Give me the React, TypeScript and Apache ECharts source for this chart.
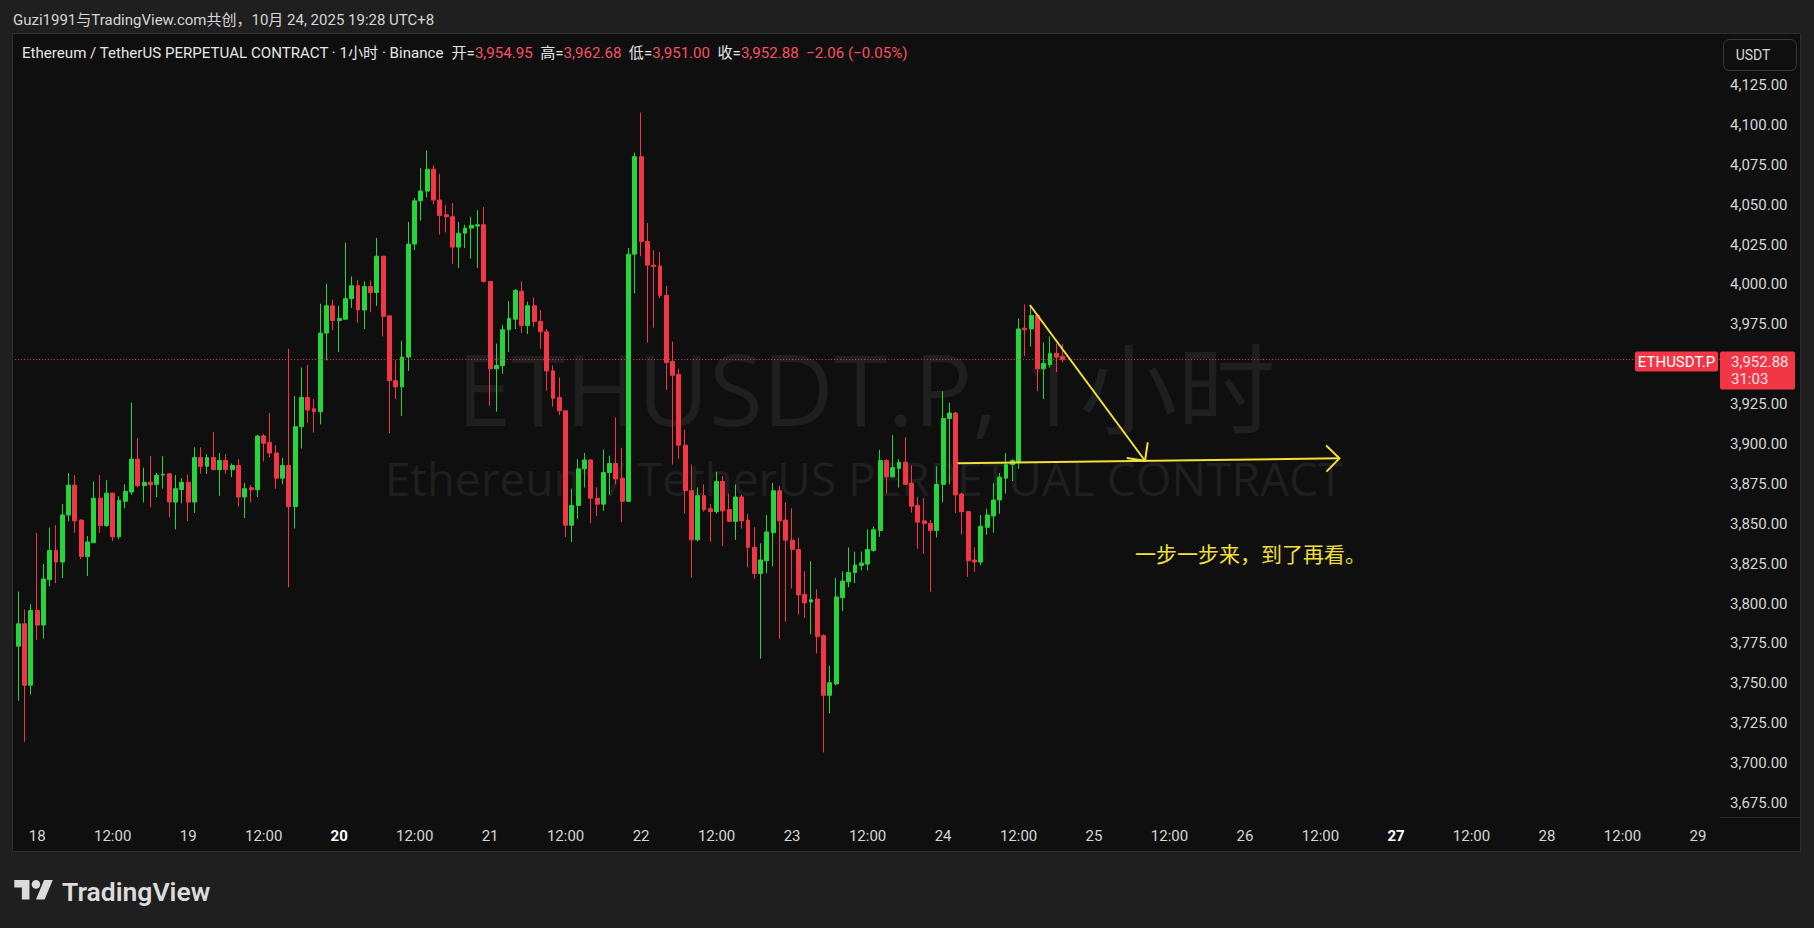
import React, { useEffect, useRef } from 'react';
import * as echarts from 'echarts';

// ---------- data ----------
const startDay = 17;
const startHour = 21;
const totalSlots = 271;
const mondayDays = [20, 27];

const opens = [
  3773.3, 3787.3, 3748.8, 3795.7, 3786.5, 3814.9, 3833.3, 3826.0, 3855.5, 3874.2,
  3852.3, 3829.4, 3838.1, 3866.0, 3848.9, 3869.2, 3841.8, 3864.1, 3869.9, 3890.5,
  3873.9, 3876.0, 3874.7, 3880.5, 3881.3, 3863.6, 3871.5, 3876.0, 3863.6, 3891.5,
  3886.0, 3891.5, 3883.9, 3889.7, 3883.9, 3886.5, 3866.8, 3872.6, 3871.3, 3905.0,
  3901.0, 3894.4, 3878.6, 3886.5, 3860.7, 3910.8, 3929.2, 3922.1, 3920.2, 3969.5,
  3986.6, 3977.4, 3978.2, 3991.1, 3999.2, 3984.0, 3998.7, 3995.0, 4017.7, 3980.3,
  3939.7, 3935.8, 3954.5, 4025.3, 4052.4, 4058.5, 4072.2, 4052.9, 4043.7, 4042.4,
  4023.4, 4032.1, 4035.3, 4036.6, 4037.4, 4001.9, 3947.1, 3949.2, 3971.6, 3978.2,
  3995.8, 3974.2, 3986.6, 3976.8, 3970.3, 3945.8, 3929.2, 3920.8, 3849.1, 3861.5,
  3884.4, 3890.0, 3866.0, 3862.3, 3882.1, 3887.8, 3878.6, 3864.1, 4019.0, 4080.1,
  4026.9, 4012.1, 4011.6, 3993.2, 3951.8, 3943.6, 3899.2, 3870.7, 3839.9, 3867.6,
  3859.4, 3857.6, 3876.5, 3858.9, 3851.5, 3866.8, 3852.3, 3835.2, 3818.9, 3826.8,
  3844.4, 3870.7, 3852.3, 3839.7, 3833.9, 3805.7, 3801.0, 3802.8, 3779.9, 3742.5,
  3749.6, 3803.6, 3813.6, 3819.4, 3823.9, 3824.7, 3833.3, 3845.7, 3889.7, 3879.4,
  3884.7, 3888.6, 3875.5, 3861.5, 3851.8, 3850.2, 3845.7, 3874.7, 3916.0, 3919.4,
  3868.6, 3857.6, 3827.3, 3826.0, 3847.8, 3854.9, 3864.9, 3878.6, 3887.1, 3888.6,
  3972.6, 3972.1, 3980.5, 3947.1, 3949.7, 3956.8, 3954.95,
];
const highs = [
  3807.5, 3796.2, 3799.6, 3844.4, 3824.7, 3847.6, 3849.1, 3862.3, 3881.8, 3880.5,
  3852.8, 3842.3, 3876.5, 3880.5, 3877.3, 3869.2, 3867.3, 3874.7, 3926.0, 3903.7,
  3885.2, 3892.3, 3881.8, 3892.3, 3881.8, 3880.5, 3878.6, 3880.7, 3897.9, 3897.9,
  3893.6, 3907.6, 3894.4, 3893.6, 3887.8, 3890.5, 3875.5, 3874.2, 3905.5, 3906.3,
  3919.4, 3899.2, 3891.3, 3959.7, 3930.0, 3947.9, 3949.7, 3928.1, 3987.9, 4000.5,
  3990.5, 3986.6, 4026.1, 4005.0, 4002.9, 4001.9, 4002.4, 4029.2, 4017.7, 3980.3,
  3952.4, 3964.7, 4039.2, 4054.2, 4073.0, 4084.0, 4074.8, 4069.3, 4049.8, 4051.1,
  4039.2, 4037.4, 4042.4, 4046.6, 4048.5, 4001.9, 3962.9, 3974.7, 3989.7, 3997.1,
  4001.9, 3989.2, 3991.8, 3984.0, 3972.1, 3949.2, 3941.8, 3920.8, 3872.0, 3890.5,
  3894.4, 3890.5, 3872.8, 3896.5, 3892.6, 3916.8, 3897.6, 4022.9, 4082.7, 4107.7,
  4038.5, 4021.6, 4020.3, 3999.2, 3964.2, 3947.1, 3908.9, 3887.1, 3872.8, 3874.7,
  3862.3, 3882.6, 3879.9, 3868.9, 3874.7, 3868.1, 3856.3, 3847.8, 3837.8, 3855.5,
  3875.5, 3873.9, 3863.4, 3859.7, 3841.3, 3820.2, 3826.5, 3808.9, 3780.7, 3761.0,
  3816.2, 3820.2, 3835.2, 3832.5, 3832.5, 3846.5, 3848.4, 3896.3, 3890.5, 3905.5,
  3890.5, 3904.2, 3886.5, 3866.8, 3866.0, 3852.3, 3886.0, 3933.1, 3926.0, 3920.2,
  3869.4, 3858.1, 3835.2, 3855.5, 3859.4, 3875.5, 3881.8, 3894.4, 3890.5, 3978.7,
  3987.4, 3986.6, 3981.3, 3963.7, 3967.4, 3962.9, 3962.68,
];
const lows = [
  3739.1, 3713.3, 3743.0, 3777.3, 3778.1, 3810.7, 3812.8, 3816.0, 3851.5, 3844.4,
  3827.8, 3817.3, 3838.1, 3844.4, 3848.1, 3839.1, 3840.5, 3859.7, 3868.1, 3872.8,
  3863.4, 3860.2, 3866.8, 3872.0, 3854.1, 3846.5, 3862.8, 3851.8, 3856.8, 3881.3,
  3881.3, 3883.9, 3867.6, 3881.3, 3879.2, 3860.7, 3853.6, 3863.4, 3866.8, 3889.2,
  3891.8, 3872.0, 3874.7, 3810.2, 3847.0, 3897.1, 3913.4, 3907.1, 3912.3, 3952.4,
  3971.3, 3957.6, 3978.2, 3985.3, 3976.0, 3972.1, 3982.6, 3986.6, 3967.4, 3906.8,
  3928.1, 3917.6, 3945.8, 4021.6, 4040.0, 4054.5, 4050.3, 4031.3, 4032.7, 4012.9,
  4010.3, 4022.9, 4016.1, 4010.3, 4001.1, 3923.9, 3920.2, 3943.9, 3957.6, 3972.1,
  3969.5, 3968.9, 3973.4, 3959.7, 3933.4, 3923.4, 3918.1, 3841.8, 3838.6, 3853.1,
  3872.8, 3850.2, 3854.9, 3858.1, 3868.1, 3874.7, 3851.0, 3863.6, 3994.5, 4017.7,
  3963.4, 3972.9, 3991.3, 3933.9, 3887.1, 3890.5, 3856.3, 3816.2, 3839.1, 3857.6,
  3838.6, 3856.3, 3836.0, 3851.5, 3839.9, 3847.0, 3822.8, 3815.4, 3765.4, 3818.9,
  3823.3, 3777.8, 3788.6, 3809.4, 3793.0, 3791.0, 3780.7, 3768.6, 3706.7, 3731.2,
  3748.8, 3795.2, 3810.2, 3812.8, 3820.7, 3820.7, 3832.5, 3841.8, 3868.9, 3879.2,
  3872.8, 3874.7, 3857.0, 3834.4, 3831.2, 3807.5, 3841.3, 3863.4, 3874.7, 3856.8,
  3843.1, 3816.7, 3819.9, 3824.1, 3843.1, 3844.4, 3856.3, 3868.9, 3876.8, 3884.4,
  3955.0, 3961.0, 3933.1, 3928.1, 3947.9, 3945.0, 3951.0,
];
const closes = [
  3787.3, 3748.8, 3795.7, 3786.5, 3815.4, 3833.3, 3826.0, 3855.5, 3874.2, 3851.8,
  3829.4, 3838.6, 3866.0, 3848.9, 3869.2, 3841.8, 3864.7, 3870.2, 3890.5, 3873.9,
  3876.0, 3874.4, 3880.5, 3881.0, 3863.6, 3872.0, 3876.0, 3863.6, 3891.5, 3886.0,
  3891.5, 3883.9, 3889.7, 3883.9, 3886.5, 3866.8, 3872.0, 3871.3, 3905.0, 3900.5,
  3894.4, 3878.6, 3886.5, 3860.7, 3910.8, 3929.2, 3921.3, 3920.2, 3969.5, 3986.6,
  3977.4, 3978.7, 3991.1, 3999.2, 3984.0, 3998.7, 3995.0, 4017.7, 3980.0, 3939.7,
  3935.8, 3954.5, 4025.3, 4052.4, 4058.5, 4072.2, 4052.9, 4043.2, 4042.4, 4023.4,
  4032.1, 4035.3, 4037.1, 4037.4, 4001.9, 3947.1, 3949.2, 3971.6, 3978.7, 3996.3,
  3974.2, 3986.6, 3976.8, 3970.3, 3945.8, 3928.7, 3920.8, 3849.1, 3861.5, 3884.4,
  3890.0, 3866.0, 3862.3, 3882.1, 3887.8, 3878.1, 3864.1, 4019.0, 4080.1, 4026.9,
  4012.1, 4011.3, 3993.2, 3951.0, 3943.1, 3899.2, 3870.7, 3839.9, 3867.6, 3858.9,
  3857.6, 3876.5, 3858.1, 3851.5, 3866.8, 3851.8, 3835.2, 3818.9, 3827.3, 3844.9,
  3870.7, 3851.8, 3839.7, 3833.9, 3805.4, 3800.4, 3802.3, 3779.4, 3742.5, 3750.4,
  3804.1, 3814.1, 3819.4, 3824.1, 3825.4, 3833.9, 3846.3, 3889.7, 3879.4, 3885.2,
  3888.6, 3874.7, 3861.0, 3851.0, 3850.2, 3845.7, 3874.7, 3916.0, 3919.4, 3868.1,
  3857.6, 3826.8, 3826.0, 3848.4, 3855.5, 3864.9, 3879.2, 3887.1, 3889.7, 3972.1,
  3971.6, 3980.5, 3947.1, 3950.5, 3956.8, 3954.5, 3952.88,
];

// 3,950.00 is hidden behind the last-price tag in the reference
const priceTicks = [
  3675, 3700, 3725, 3750, 3775, 3800, 3825, 3850, 3875, 3900,
  3925, 3975, 4000, 4025, 4050, 4075, 4100, 4125,
];
const priceMin = 3666.2;
const priceMax = 4157.6;

const lastPrice = 3952.88;
const lastPriceLabel = '3,952.88';
const countdown = '31:03';
const symbolTag = 'ETHUSDT.P';
const quoteUnit = 'USDT';

// drawings anchored to [candle index, price]
const arrowSegments = [
  [160.8, 3987.1, 179.1, 3889.5],
  [149.3, 3887.9, 210.0, 3891.0],
];
const notePoint = [[177.5, 3831.7]];
const noteText = '一步一步来，到了再看。';

const headerText = 'Guzi1991与TradingView.com共创，10月 24, 2025 19:28 UTC+8';
const legendTitle = 'Ethereum / TetherUS PERPETUAL CONTRACT · 1小时 · Binance';
const legendFields = [
  ['开', '3,954.95'],
  ['高', '3,962.68'],
  ['低', '3,951.00'],
  ['收', '3,952.88'],
];
const legendChange = '−2.06 (−0.05%)';
const watermarkMain = 'ETHUSDT.P, 1小时';
const watermarkSub = 'Ethereum / TetherUS PERPETUAL CONTRACT';
const brandText = 'TradingView';

// ---------- styles ----------
const UP = '#26d43c';
const DOWN = '#f23645';
const YELLOW = '#f2e03a';
const TEXT = '#d6d6d6';
const FONT = 'Roboto, "Noto Sans CJK SC", sans-serif';
const CJK = '"Noto Sans CJK SC", Roboto, sans-serif';

const LOGO_D =
  'M14 22H7V11H0V4h14v18zM28 22h-8l7.5-18h8L28 22zM24 8a4 4 0 1 1-8 0a4 4 0 1 1 8 0z';
let logoRegistered = false;

const categories = Array.from({ length: totalSlots }, (_, i) => {
  const t = startHour + i;
  return `${startDay + Math.floor(t / 24)}|${t % 24}`;
});

export default function App() {
  const ref = useRef<HTMLDivElement>(null);

  useEffect(() => {
    document.body.style.margin = '0';
    if (!logoRegistered) {
      echarts.graphic.registerShape('tvlogo', echarts.graphic.extendPath(LOGO_D, {}));
      logoRegistered = true;
    }
    const chart = echarts.init(ref.current!, null, { renderer: 'svg', width: 1814, height: 928 });

    const candleData = opens.map((o, i) => [o, closes[i], lows[i], highs[i]]);

    const legendRich =
      `{w|${legendTitle}}  ` +
      legendFields.map(([k, v]) => `{w|${k}=}{r|${v}}`).join('  ') +
      `  {r|${legendChange}}`;

    const baseGraphic: any[] = [
      {
        type: 'rect', z: -20, silent: true,
        shape: { x: 12.5, y: 33.5, width: 1788, height: 818 },
        style: { fill: '#0f0f0f', stroke: '#2e2e2e', lineWidth: 1 },
      },
      {
        type: 'text', z: -15, silent: true, x: 866, y: 388,
        style: {
          text: watermarkMain, fill: '#1f1f1f', font: `98px "Open Sans", ${CJK}`,
          lineHeight: 98,
          align: 'center', verticalAlign: 'middle', textAlign: 'center', textVerticalAlign: 'middle',
        },
      },
      {
        type: 'text', z: -15, silent: true, x: 864, y: 478,
        style: {
          text: watermarkSub, fill: '#1f1f1f', font: `46px "Open Sans", sans-serif`,
          lineHeight: 46,
          align: 'center', verticalAlign: 'middle', textAlign: 'center', textVerticalAlign: 'middle',
        },
      },
      {
        type: 'text', x: 13, y: 20,
        style: {
          text: headerText, fill: TEXT, font: `15px ${FONT}`,
          align: 'left', verticalAlign: 'middle', textAlign: 'left', textVerticalAlign: 'middle',
        },
      },
      {
        type: 'text', x: 22, y: 53,
        style: {
          text: legendRich, fill: TEXT, font: `15px ${FONT}`,
          align: 'left', verticalAlign: 'middle', textAlign: 'left', textVerticalAlign: 'middle',
          rich: {
            w: { fill: '#e6e6e6', color: '#e6e6e6', fontSize: 15.1, fontFamily: FONT },
            r: { fill: '#f7525f', color: '#f7525f', fontSize: 15.1, fontFamily: FONT },
          },
        },
      },
      {
        type: 'rect', shape: { x: 1723.5, y: 39.5, width: 73, height: 31, r: 6 },
        style: { fill: '#0f0f0f', stroke: '#3a3a3a', lineWidth: 1 },
      },
      {
        type: 'text', x: 1753, y: 55,
        style: {
          text: quoteUnit, fill: TEXT, font: `14px ${FONT}`,
          align: 'center', verticalAlign: 'middle', textAlign: 'center', textVerticalAlign: 'middle',
        },
      },
      {
        type: 'line', shape: { x1: 1720, y1: 817.5, x2: 1800, y2: 817.5 },
        style: { stroke: '#2a2a2a', lineWidth: 1 },
      },
      {
        type: 'tvlogo', x: 14.3, y: 875.7, scaleX: 1.083, scaleY: 1.083,
        style: { fill: '#dcdcdc' },
      },
      {
        type: 'text', x: 62, y: 891,
        style: {
          text: brandText, fill: '#dcdcdc', font: `600 26.5px ${FONT}`,
          align: 'left', verticalAlign: 'middle', textAlign: 'left', textVerticalAlign: 'middle',
        },
      },
    ];

    const option: any = {
      animation: false,
      backgroundColor: '#1f1f1f',
      grid: { left: 15.15, right: 94, top: 33, bottom: 111, containLabel: false },
      xAxis: [
        {
          type: 'category', data: categories, boundaryGap: true,
          axisLine: { show: false }, axisTick: { show: false }, splitLine: { show: false },
          axisLabel: {
            color: TEXT, fontSize: 15, fontFamily: FONT, margin: 11,
            interval: (_: number, value: string) => {
              const h = Number(value.split('|')[1]);
              return h === 0 || h === 12;
            },
            formatter: (value: string) => {
              const [d, h] = value.split('|').map(Number);
              if (h === 12) return '12:00';
              if (h === 0) return mondayDays.includes(d) ? `{b|${d}}` : `${d}`;
              return '';
            },
            rich: { b: { fontWeight: 'bold', color: '#ffffff', fontSize: 15, fontFamily: FONT } },
          },
        },
        { type: 'value', min: -0.5, max: totalSlots - 0.5, show: false },
      ],
      yAxis: {
        type: 'value', position: 'right', min: priceMin, max: priceMax, scale: true,
        axisLine: { show: false }, axisTick: { show: false, customValues: priceTicks },
        splitLine: { show: false },
        axisLabel: {
          customValues: priceTicks,
          color: TEXT, fontSize: 15, fontFamily: FONT, margin: 10,
          formatter: (v: number) =>
            Number(v).toLocaleString('en-US', { minimumFractionDigits: 2, maximumFractionDigits: 2 }),
        },
      },
      series: [
        {
          type: 'candlestick', xAxisIndex: 0, yAxisIndex: 0, data: candleData, barWidth: 4.4,
          itemStyle: { color: UP, color0: DOWN, borderColor: UP, borderColor0: DOWN, borderWidth: 1 },
          markLine: {
            silent: true, symbol: ['none', 'none'], label: { show: false },
            lineStyle: { color: DOWN, type: [1, 2], width: 1 },
            data: [{ yAxis: lastPrice }],
          },
        },
        {
          type: 'custom', xAxisIndex: 1, yAxisIndex: 0, data: arrowSegments, z: 5, clip: false,
          encode: { x: [0, 2], y: [1, 3] },
          renderItem: (_p: any, api: any) => {
            const p1 = api.coord([api.value(0), api.value(1)]);
            const p2 = api.coord([api.value(2), api.value(3)]);
            const dx = p2[0] - p1[0];
            const dy = p2[1] - p1[1];
            const len = Math.hypot(dx, dy);
            const bx = -dx / len;
            const by = -dy / len;
            const a = Math.PI / 4;
            const L = 18.5;
            const r1 = [bx * Math.cos(a) - by * Math.sin(a), bx * Math.sin(a) + by * Math.cos(a)];
            const r2 = [bx * Math.cos(-a) - by * Math.sin(-a), bx * Math.sin(-a) + by * Math.cos(-a)];
            const st = { stroke: YELLOW, lineWidth: 2, fill: 'none' };
            return {
              type: 'group',
              children: [
                { type: 'line', shape: { x1: p1[0], y1: p1[1], x2: p2[0], y2: p2[1] }, style: st },
                {
                  type: 'polyline',
                  shape: { points: [[p2[0] + r1[0] * L, p2[1] + r1[1] * L], [p2[0], p2[1]], [p2[0] + r2[0] * L, p2[1] + r2[1] * L]] },
                  style: st,
                },
              ],
            };
          },
        },
        {
          type: 'custom', xAxisIndex: 1, yAxisIndex: 0, data: notePoint, z: 5, clip: false,
          encode: { x: 0, y: 1 },
          renderItem: (_p: any, api: any) => {
            const p = api.coord([api.value(0), api.value(1)]);
            return {
              type: 'text', x: p[0], y: p[1],
              style: {
                text: noteText, fill: YELLOW, font: `21px ${CJK}`,
                align: 'left', verticalAlign: 'middle', textAlign: 'left', textVerticalAlign: 'middle',
              },
            };
          },
        },
      ],
      graphic: baseGraphic,
    };

    chart.setOption(option);

    const yP = chart.convertToPixel({ yAxisIndex: 0 }, lastPrice) as number;
    chart.setOption({
      graphic: [
        ...baseGraphic,
        {
          type: 'rect', z: 50, shape: { x: 1635, y: yP - 8, width: 83, height: 20, r: 2 },
          style: { fill: DOWN },
        },
        {
          type: 'text', z: 51, x: 1676.5, y: yP + 2,
          style: {
            text: symbolTag, fill: '#ffffff', font: `15px ${FONT}`,
            align: 'center', verticalAlign: 'middle', textAlign: 'center', textVerticalAlign: 'middle',
          },
        },
        {
          type: 'rect', z: 50, shape: { x: 1720, y: yP - 8, width: 75, height: 38, r: 2 },
          style: { fill: DOWN },
        },
        {
          type: 'text', z: 51, x: 1731, y: yP + 2,
          style: {
            text: lastPriceLabel, fill: '#ffe3e5', font: `15px ${FONT}`,
            align: 'left', verticalAlign: 'middle', textAlign: 'left', textVerticalAlign: 'middle',
          },
        },
        {
          type: 'text', z: 51, x: 1731, y: yP + 19,
          style: {
            text: countdown, fill: '#ffe3e5', font: `15px ${FONT}`,
            align: 'left', verticalAlign: 'middle', textAlign: 'left', textVerticalAlign: 'middle',
          },
        },
      ],
    }, { replaceMerge: ['graphic'] });

    return () => chart.dispose();
  }, []);

  return (
    <div
      ref={ref}
      style={{ position: 'fixed', left: 0, top: 0, width: 1814, height: 928 }}
    />
  );
}
